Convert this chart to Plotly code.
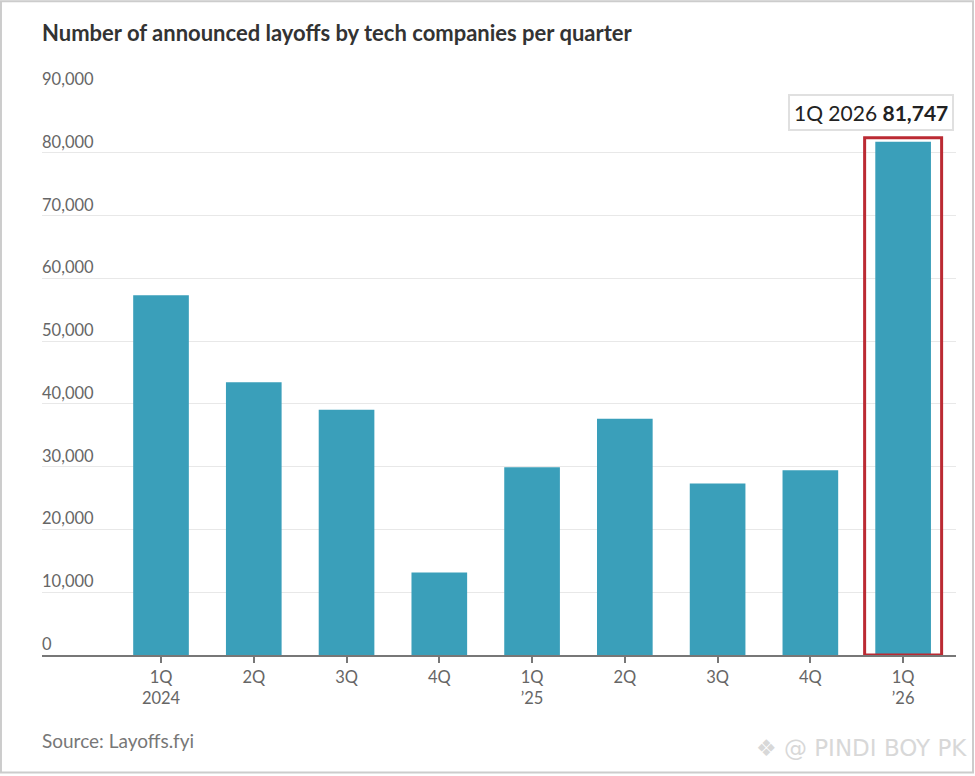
import plotly.graph_objects as go

quarters = [0, 1, 2, 3, 4, 5, 6, 7, 8]
quarter_labels = ['1Q<br>2024', '2Q', '3Q', '4Q', '1Q<br>’25', '2Q', '3Q', '4Q', '1Q<br>’26']
layoffs = [57300, 43450, 39070, 13130, 29920, 37640, 27300, 29440, 81747]
y_ticks = [0, 10000, 20000, 30000, 40000, 50000, 60000, 70000, 80000, 90000]

text_font = 'Lato'

fig = go.Figure()
fig.add_trace(go.Bar(x=quarters, y=layoffs, width=0.6, marker_color='#3a9fba', marker_line_width=0))

# y labels sit above the gridlines, so they are annotations, not ticks
for v in y_ticks:
    fig.add_annotation(x=0, xref='paper', y=v, yref='y', text=f'{v:,}', showarrow=False,
                       xanchor='left', yanchor='bottom', yshift=-1, xshift=-2,
                       font=dict(family=text_font, size=16.5, color='#666666'))

# highlight around last bar
fig.add_shape(type='rect', x0=7.585, x1=8.415, y0=0, y1=82400,
              line=dict(color='#bb2a33', width=3), fillcolor='rgba(0,0,0,0)')

# callout
fig.add_annotation(x=8, y=81747, text='1Q 2026 <b>81,747</b>', showarrow=False,
                   xanchor='center', yanchor='bottom', yshift=11, xshift=-32,
                   bgcolor='white', bordercolor='#e0e0e0', borderwidth=2, borderpad=4,
                   font=dict(family=text_font, size=21, color='#222222'))

fig.add_annotation(x=0, xref='paper', y=1.1026, yref='paper',
                   text='<b>Number of announced layoffs by tech companies per quarter</b>',
                   showarrow=False, xanchor='left', yanchor='middle', xshift=-2,
                   font=dict(family=text_font, size=22, color='#333333'))
fig.add_annotation(x=0, xref='paper', y=-0.152, yref='paper', text='Source: Layoffs.fyi', showarrow=False,
                   xanchor='left', yanchor='middle', xshift=-2,
                   font=dict(family=text_font, size=19, color='#777777'))
fig.add_annotation(x=1.014, xref='paper', y=-0.165, yref='paper', text='❖ @ PINDI BOY PK', showarrow=False,
                   xanchor='right', yanchor='middle',
                   font=dict(family='DejaVu Sans', size=23, color='#d8d8d8'))

# scan frame
fig.add_shape(type='rect', xref='paper', yref='paper', x0=-0.0449, x1=1.0186, y0=-0.208, y1=1.157,
              line=dict(color='#cccccc', width=2), fillcolor='rgba(0,0,0,0)', layer='below')

fig.update_layout(
    width=975, height=776,
    margin=dict(l=42, r=19, t=90, b=120.5, pad=0),
    plot_bgcolor='white', paper_bgcolor='white',
    showlegend=False,
    xaxis=dict(range=[-1.283, 8.57], tickmode='array', tickvals=quarters, ticktext=quarter_labels,
               ticks='outside', ticklen=6, tickcolor='#777777', tickwidth=2,
               showgrid=False, zeroline=False, showline=True, linecolor='#777777', linewidth=2,
               tickfont=dict(family=text_font, size=16.5, color='#666666')),
    yaxis=dict(range=[0, 90000], tickmode='array', tickvals=y_ticks, showticklabels=False,
               showgrid=True, gridcolor='#e8e8e8', gridwidth=1, zeroline=False),
)

fig.write_html('out.html', config={'displayModeBar': False}, post_script="document.body.style.margin='0';")
